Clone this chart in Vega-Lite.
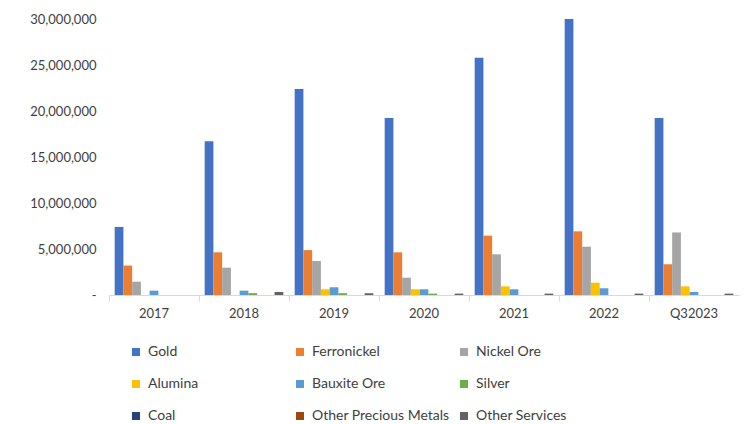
{
  "$schema": "https://vega.github.io/schema/vega-lite/v6.json",
  "width": 630,
  "height": 276,
  "autosize": "none",
  "padding": {"left": 109, "top": 19, "right": 5, "bottom": 129},
  "background": "white",
  "config": {"view": {"stroke": null}, "font": "Lato"},
  "data": {
    "values": [
      {"year": "2017", "commodity": "Gold", "value": 7400000},
      {"year": "2017", "commodity": "Ferronickel", "value": 3200000},
      {"year": "2017", "commodity": "Nickel Ore", "value": 1450000},
      {"year": "2017", "commodity": "Alumina", "value": 0},
      {"year": "2017", "commodity": "Bauxite Ore", "value": 470000},
      {"year": "2017", "commodity": "Silver", "value": 0},
      {"year": "2017", "commodity": "Coal", "value": 0},
      {"year": "2017", "commodity": "Other Precious Metals", "value": 0},
      {"year": "2017", "commodity": "Other Services", "value": 0},
      {"year": "2018", "commodity": "Gold", "value": 16700000},
      {"year": "2018", "commodity": "Ferronickel", "value": 4640000},
      {"year": "2018", "commodity": "Nickel Ore", "value": 2970000},
      {"year": "2018", "commodity": "Alumina", "value": 0},
      {"year": "2018", "commodity": "Bauxite Ore", "value": 470000},
      {"year": "2018", "commodity": "Silver", "value": 200000},
      {"year": "2018", "commodity": "Coal", "value": 0},
      {"year": "2018", "commodity": "Other Precious Metals", "value": 0},
      {"year": "2018", "commodity": "Other Services", "value": 330000},
      {"year": "2019", "commodity": "Gold", "value": 22400000},
      {"year": "2019", "commodity": "Ferronickel", "value": 4880000},
      {"year": "2019", "commodity": "Nickel Ore", "value": 3700000},
      {"year": "2019", "commodity": "Alumina", "value": 620000},
      {"year": "2019", "commodity": "Bauxite Ore", "value": 840000},
      {"year": "2019", "commodity": "Silver", "value": 200000},
      {"year": "2019", "commodity": "Coal", "value": 0},
      {"year": "2019", "commodity": "Other Precious Metals", "value": 0},
      {"year": "2019", "commodity": "Other Services", "value": 200000},
      {"year": "2020", "commodity": "Gold", "value": 19250000},
      {"year": "2020", "commodity": "Ferronickel", "value": 4640000},
      {"year": "2020", "commodity": "Nickel Ore", "value": 1880000},
      {"year": "2020", "commodity": "Alumina", "value": 620000},
      {"year": "2020", "commodity": "Bauxite Ore", "value": 620000},
      {"year": "2020", "commodity": "Silver", "value": 150000},
      {"year": "2020", "commodity": "Coal", "value": 0},
      {"year": "2020", "commodity": "Other Precious Metals", "value": 0},
      {"year": "2020", "commodity": "Other Services", "value": 150000},
      {"year": "2021", "commodity": "Gold", "value": 25800000},
      {"year": "2021", "commodity": "Ferronickel", "value": 6450000},
      {"year": "2021", "commodity": "Nickel Ore", "value": 4420000},
      {"year": "2021", "commodity": "Alumina", "value": 940000},
      {"year": "2021", "commodity": "Bauxite Ore", "value": 620000},
      {"year": "2021", "commodity": "Silver", "value": 0},
      {"year": "2021", "commodity": "Coal", "value": 0},
      {"year": "2021", "commodity": "Other Precious Metals", "value": 0},
      {"year": "2021", "commodity": "Other Services", "value": 150000},
      {"year": "2022", "commodity": "Gold", "value": 30000000},
      {"year": "2022", "commodity": "Ferronickel", "value": 6920000},
      {"year": "2022", "commodity": "Nickel Ore", "value": 5250000},
      {"year": "2022", "commodity": "Alumina", "value": 1340000},
      {"year": "2022", "commodity": "Bauxite Ore", "value": 730000},
      {"year": "2022", "commodity": "Silver", "value": 0},
      {"year": "2022", "commodity": "Coal", "value": 0},
      {"year": "2022", "commodity": "Other Precious Metals", "value": 0},
      {"year": "2022", "commodity": "Other Services", "value": 150000},
      {"year": "Q32023", "commodity": "Gold", "value": 19250000},
      {"year": "Q32023", "commodity": "Ferronickel", "value": 3340000},
      {"year": "Q32023", "commodity": "Nickel Ore", "value": 6800000},
      {"year": "Q32023", "commodity": "Alumina", "value": 940000},
      {"year": "Q32023", "commodity": "Bauxite Ore", "value": 330000},
      {"year": "Q32023", "commodity": "Silver", "value": 0},
      {"year": "Q32023", "commodity": "Coal", "value": 0},
      {"year": "Q32023", "commodity": "Other Precious Metals", "value": 0},
      {"year": "Q32023", "commodity": "Other Services", "value": 150000}
    ]
  },
  "mark": {"type": "bar"},
  "encoding": {
    "x": {
      "field": "year",
      "type": "nominal",
      "sort": null,
      "scale": {"paddingInner": 0, "paddingOuter": 0},
      "axis": {
        "title": null,
        "labelAngle": 0,
        "bandPosition": 0,
        "domainColor": "#d9d9d9",
        "tickColor": "#d9d9d9",
        "tickSize": 6,
        "labelFontSize": 13,
        "labelColor": "#404040",
        "labelPadding": 6
      }
    },
    "xOffset": {
      "field": "commodity",
      "type": "nominal",
      "sort": ["Gold", "Ferronickel", "Nickel Ore", "Alumina", "Bauxite Ore", "Silver", "Coal", "Other Precious Metals", "Other Services"],
      "scale": {"paddingInner": 0, "paddingOuter": 0.65}
    },
    "y": {
      "field": "value",
      "type": "quantitative",
      "scale": {"domain": [0, 30000000], "nice": false},
      "axis": {
        "title": null,
        "grid": false,
        "domain": false,
        "ticks": false,
        "values": [0, 5000000, 10000000, 15000000, 20000000, 25000000, 30000000],
        "labelOverlap": false,
        "labelExpr": "datum.value == 0 ? '-' : format(datum.value, ',')",
        "labelFontSize": 13,
        "labelColor": "#404040",
        "labelPadding": 13
      }
    },
    "color": {
      "field": "commodity",
      "type": "nominal",
      "sort": ["Gold", "Ferronickel", "Nickel Ore", "Alumina", "Bauxite Ore", "Silver", "Coal", "Other Precious Metals", "Other Services"],
      "scale": {
        "domain": ["Gold", "Ferronickel", "Nickel Ore", "Alumina", "Bauxite Ore", "Silver", "Coal", "Other Precious Metals", "Other Services"],
        "range": ["#4472C4", "#ED7D31", "#A5A5A5", "#FFC000", "#5B9BD5", "#70AD47", "#264478", "#9E480E", "#636363"]
      },
      "legend": {
        "title": null,
        "orient": "none",
        "legendX": 20,
        "legendY": 326,
        "direction": "horizontal",
        "columns": 3,
        "gridAlign": "all",
        "columnPadding": 7,
        "rowPadding": 18,
        "symbolType": "square",
        "symbolSize": 64,
        "symbolStrokeWidth": 0,
        "labelFontSize": 14,
        "labelColor": "#404040",
        "labelOffset": 5,
        "labelLimit": 300
      }
    }
  }
}
